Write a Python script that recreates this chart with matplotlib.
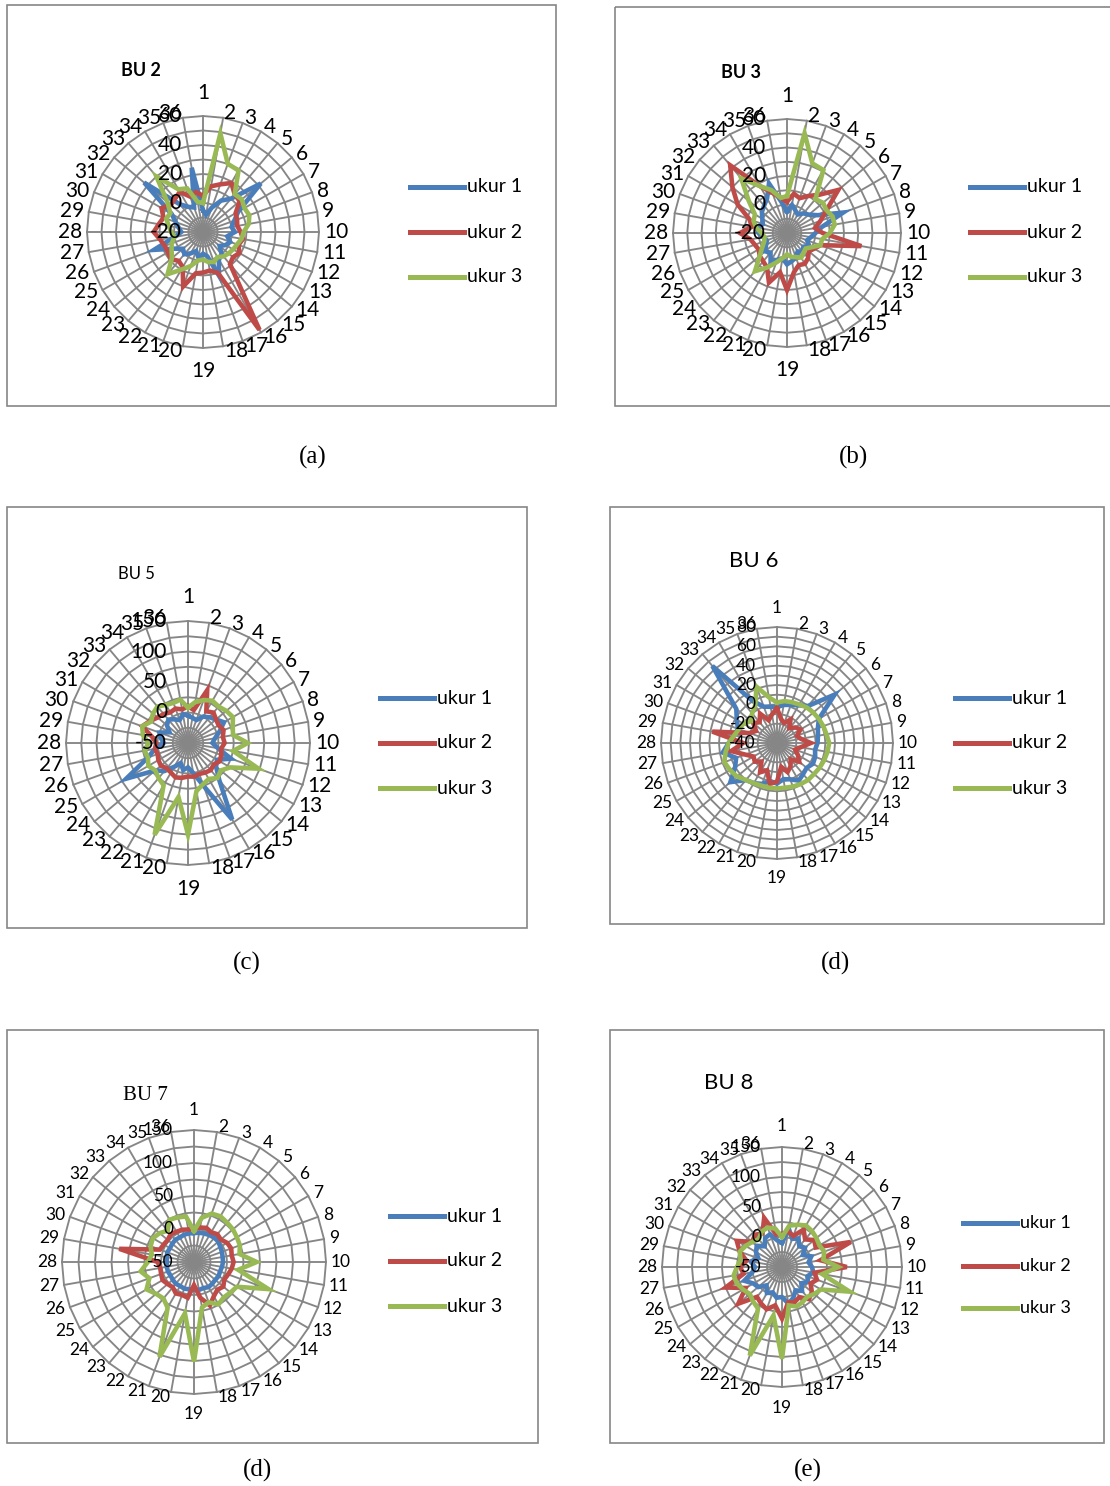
import matplotlib.pyplot as plt
import numpy as np
from matplotlib.patches import Rectangle
from matplotlib.transforms import ScaledTranslation

# kategori (titik ukur) dan nama seri
kategori = [str(i) for i in range(1, 37)]
seri = ["ukur 1", "ukur 2", "ukur 3"]

# BU 2
bu2_ukur1 = [-5, -8, -2, 5, 10, 32, 8, 3, 0, 2, -3, 0, -2, -5, 0, 2, 12, -3,
             -5, -2, -6, -3, 0, -2, 3, 16, 0, -5, -3, 0, 5, 33, 5, 0, -2, 25]
bu2_ukur2 = [5, 12, 15, 19, 14, 13, 6, 5, 4, 6, 8, 6, 9, 7, 9, 58, 10, 7,
             8, 9, 20, 8, 6, 9, 8, 8, 10, 14, 11, 9, 13, 9, 10, 12, 6, 8]
bu2_ukur3 = [0, 49, 30, 29, 14, 15, 13, 14, 12, 8, 7, 5, 4, 3, 2, 0, 2, 1,
             -1, 0, 5, 10, 18, 8, 5, 3, 0, 2, 4, 7, 6, 12, 30, 14, 12, 1]

# BU 3
bu3_ukur1 = [-5, 0, -3, -5, -2, 0, 5, 22, 5, 0, -3, -5, -2, -5, -3, -5, -2, 0,
             2, -2, 0, 3, -2, 0, -3, -5, -3, 0, 2, -2, 0, 3, 5, 8, 17, 2]
bu3_ukur2 = [2, 8, 6, 10, 15, 27, 12, 5, 0, 5, 33, 5, 2, 0, 3, 5, 4, 8,
             20, 8, 17, 8, 6, 5, 3, 4, 6, 13, 5, 8, 20, 30, 42, 18, 10, 5]
bu3_ukur3 = [6, 51, 32, 31, 11, 13, 12, 14, 14, 10, 5, 5, 0, -3, -2, 0, -2, -3,
             -5, -2, 2, 8, 15, 5, 0, -3, -4, -2, 2, 5, 6, 15, 30, 18, 12, 5]

# BU 5
bu5_ukur1 = [-5, -8, -10, 0, 5, 10, 18, 5, -5, -10, 0, 25, 5, 10, 30, 95, 25, 0,
             -10, -5, -15, -5, 10, 20, 67, 20, 5, -10, -5, 0, -15, -5, 0, -5, -10, -2]
bu5_ukur2 = [10, 5, 42, 10, 15, 10, 8, 12, 8, 10, 5, 8, 10, 5, 8, 6, 4, 6,
             5, 8, 10, 6, 4, 8, 6, 3, 5, 2, 10, 30, 22, 15, 12, 8, 10, 6]
bu5_ukur3 = [8, 18, 25, 30, 28, 32, 35, 28, 25, 48, 25, 73, 30, 20, 25, 18, 22, 30,
             100, 40, 110, 30, 25, 20, 25, 20, 22, 15, 25, 30, 20, 25, 28, 22, 20, 22]

# BU 6
bu6_ukur1 = [-3, 0, 2, 5, 10, 38, 10, 5, 3, 2, 0, 2, 3, 0, 2, 5, 0, -2,
             2, 0, 5, 8, 10, 23, 10, 5, 17, 10, 5, 3, 8, 15, 64, 10, 0, -2]
bu6_ukur2 = [-4, -15, -18, -12, -20, -15, -12, -18, -15, -5, -15, -20, -15, -10, -18, -12, -8, -15,
             0, 3, -10, -5, -15, -10, -12, -5, 8, -5, 28, -10, -15, -8, -12, -5, -15, -10]
bu6_ukur3 = [2, 4, 5, 6, 8, 9, 10, 11, 12, 14, 13, 12, 11, 10, 10, 9, 8, 7,
             7, 7, 7, 8, 10, 14, 16, 18, 14, 10, 5, 2, 0, -5, 0, 5, 22, 8]

# BU 7
bu7_ukur1 = [-6, -5, -4, -3, -2, -2, -4, -5, -6, -6, -7, -8, -7, -8, -7, -6, -8, -7,
             -8, -8, -7, -8, -7, -8, -9, -8, -8, -9, -8, -7, -8, -7, -6, -7, -6, -6]
bu7_ukur2 = [0, 3, 5, 2, 5, 3, 8, 10, 8, 10, 8, 5, 3, 8, 5, 10, 20, 5,
             -15, 5, 3, 5, 0, 2, 5, 3, 2, 5, 65, 5, 3, 2, 5, 3, 2, 0]
bu7_ukur3 = [-3, 18, 28, 30, 28, 27, 25, 24, 20, 45, 18, 70, 25, 22, 20, 24, 15, 20,
             101, 29, 103, 30, 22, 25, 33, 22, 32, 20, 15, 20, 22, 18, 12, 24, 22, 20]

# BU 8
bu8_ukur1 = [-10, 15, 0, 5, -5, 0, -10, 2, -5, 0, 3, -5, 0, -8, 2, -5, 5, 12,
             0, 2, -5, 0, -10, 2, 5, 17, 0, -5, 3, -8, 0, 5, -5, 6, 8, -5]
bu8_ukur2 = [5, 10, 5, 22, 10, 20, 15, 72, 15, 58, 5, 12, 5, 15, 20, 8, 12, 10,
             36, 15, 25, 20, 15, 45, 20, 50, 15, 20, 10, 25, 37, 15, 20, 15, 37, 5]
bu8_ukur3 = [0, 20, 25, 30, 28, 25, 22, 25, 20, 44, 18, 70, 25, 20, 15, 18, 20, 15,
             103, 32, 107, 30, 25, 20, 25, 30, 32, 25, 20, 25, 20, 15, 10, 18, 20, 15]

W, H = 1110, 1486
warna = ["#4a7ebb", "#be4b48", "#98b954"]
abu = "#868686"
FONT = ["Lato", "DejaVu Sans"]

fig = plt.figure(figsize=(W / 100, H / 100), dpi=100)
bg = fig.add_axes([0, 0, 1, 1])
bg.set_xlim(0, W)
bg.set_ylim(H, 0)
bg.axis("off")


def radar(cx, cy, R, vmin, vmax, major, minor, data, fs, pad_tb):
    ax = fig.add_axes([(cx - R) / W, (H - cy - R) / H, 2 * R / W, 2 * R / H],
                      projection="polar")
    ax.set_theta_zero_location("N")
    ax.set_theta_direction(-1)
    ax.set_ylim(vmin, vmax)
    ax.axis("off")
    theta = np.deg2rad(np.arange(len(kategori)) * 10)
    tt = np.append(theta, theta[0])
    # garis grid
    for v in np.arange(vmin + minor, vmax + minor / 2, minor):
        ax.plot(tt, np.full_like(tt, v), color=abu, lw=1.35, zorder=1, clip_on=False)
    for t in theta:
        ax.plot([t, t], [vmin, vmax], color=abu, lw=1.35, zorder=1, clip_on=False)
    # seri data
    for i, d in enumerate(data):
        ax.plot(tt, np.append(d, d[0]), color=warna[i], lw=3.3, zorder=3 + i,
                clip_on=False, solid_joinstyle="miter")
    # label kategori
    per_px = (vmax - vmin) / R
    for t, lab in zip(theta, kategori):
        s = np.sin(t)
        if abs(s) < 0.01:
            ha, r = "center", vmax + pad_tb * per_px
        else:
            ha, r = ("left" if s > 0 else "right"), vmax + 5 * per_px
        ax.text(t, r, lab, ha=ha, va="center", fontsize=fs,
                family=FONT, clip_on=False)
    # label nilai
    geser = ax.transData + ScaledTranslation(-0.21, 0, fig.dpi_scale_trans)
    for v in range(vmin, vmax + 1, major):
        ax.text(0, v, str(v), transform=geser, ha="right", va="center",
                fontsize=fs, family=FONT, zorder=10)
    return ax


def kotak(x0, y0, x1, y1):
    bg.add_patch(Rectangle((x0, y0), x1 - x0, y1 - y0, fill=False,
                           edgecolor=abu, lw=1.2))


def legenda(x0, ys, fs):
    for i, y in enumerate(ys):
        bg.plot([x0, x0 + 54], [y, y], color=warna[i], lw=3.6)
        bg.text(x0 + 57, y, seri[i], ha="left", va="center", fontsize=fs,
                family=FONT)


# (a) BU 2
kotak(7, 5, 556, 406)
bg.text(141, 70, "BU 2", ha="center", va="center", fontsize=13,
        fontweight="bold", family=FONT)
radar(203, 232, 116, -20, 60, 20, 10, [bu2_ukur1, bu2_ukur2, bu2_ukur3], 15, 23)
legenda(410, [187, 232, 277], 14)
bg.text(313, 457, "(a)", ha="center", va="center", fontsize=18,
        family="Liberation Serif")

# (b) BU 3
kotak(615, 7, 1114, 406)
bg.text(741, 72, "BU 3", ha="center", va="center", fontsize=13,
        fontweight="bold", family=FONT)
radar(787, 233, 114, -20, 60, 20, 10, [bu3_ukur1, bu3_ukur2, bu3_ukur3], 15, 23)
legenda(970, [187, 232, 277], 14)
bg.text(853, 457, "(b)", ha="center", va="center", fontsize=18,
        family="Liberation Serif")

# (c) BU 5
kotak(7, 507, 527, 928)
bg.text(136, 574, "BU 5", ha="center", va="center", fontsize=12, family=FONT)
radar(188, 743, 122, -50, 150, 50, 25, [bu5_ukur1, bu5_ukur2, bu5_ukur3], 15, 24)
legenda(380, [698, 743, 788], 14)
bg.text(247, 963, "(c)", ha="center", va="center", fontsize=18,
        family="Liberation Serif")

# (d) BU 6
kotak(610, 507, 1104, 924)
bg.text(754, 561, "BU 6", ha="center", va="center", fontsize=16, family=FONT)
radar(777, 743, 116, -40, 80, 20, 10, [bu6_ukur1, bu6_ukur2, bu6_ukur3], 12.5, 19)
legenda(955, [698, 743, 788], 14)
bg.text(835, 963, "(d)", ha="center", va="center", fontsize=18,
        family="Liberation Serif")

# (d) BU 7
kotak(7, 1030, 538, 1443)
bg.text(145, 1096, "BU 7", ha="center", va="center", fontsize=15,
        family="Liberation Serif")
radar(194, 1262, 132, -50, 150, 50, 25, [bu7_ukur1, bu7_ukur2, bu7_ukur3], 12.5, 20)
legenda(390, [1216, 1261, 1306], 14)
bg.text(258, 1470, "(d)", ha="center", va="center", fontsize=18,
        family="Liberation Serif")

# (e) BU 8
kotak(610, 1030, 1104, 1443)
bg.text(729, 1083, "BU 8", ha="center", va="center", fontsize=16, family=FONT)
radar(782, 1267, 120, -50, 150, 50, 25, [bu8_ukur1, bu8_ukur2, bu8_ukur3], 12.5, 21)
legenda(963, [1223, 1266, 1308], 13)
bg.text(808, 1470, "(e)", ha="center", va="center", fontsize=18,
        family="Liberation Serif")

fig.savefig("out.png", dpi=100)
